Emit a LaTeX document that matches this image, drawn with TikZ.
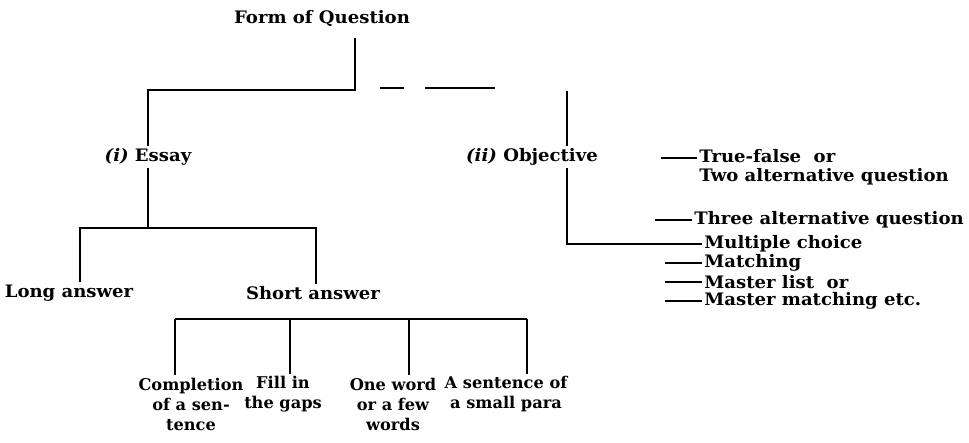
\documentclass[tikz,border=0pt]{standalone}
\usepackage{fontspec}
\setmainfont{DejaVu Serif}
\newfontfamily\widefont[FakeStretch=1.05]{DejaVu Serif}
\begin{document}
\begin{tikzpicture}[x=0.5pt,y=-0.5pt,
  every node/.style={font=\widefont\bfseries\fontsize{8.6}{9.4}\selectfont, inner sep=1pt},
  leaf/.style={align=center, font=\bfseries\fontsize{8.1}{10}\selectfont},
  item/.style={anchor=west},
  conn/.style={line width=1.3pt},
  tick/.style={line width=1pt}]
\useasboundingbox (0,0) rectangle (969,443);

% nodes
\node (form) at (322,19) {Form of Question};
\node (essay) at (148,157) {\textit{(i)} Essay};
\node (obj) at (532,157) {\textit{(ii)} Objective};
\node (long) at (69,293) {Long answer};
\node (short) at (313,293) {Short answer};
\node[leaf] (c1) at (191,404) {Completion\\of a sen-\\tence};
\node[leaf] (c2) at (283,394) {Fill in\\the gaps};
\node[leaf] (c3) at (393,404) {One word\\or a few\\words};
\node[leaf] (c4) at (506,394) {A sentence of\\a small para};

\node[item, align=left] (tf) at (697,167) {True-false~ or\\Two alternative question};
\node[item] (three) at (692,220) {Three alternative question};
\node[item] (mc) at (702,244) {Multiple choice};
\node[item] (mat) at (702,263) {Matching};
\node[item] (ml) at (702,282) {Master list~ or};
\node[item] (mm) at (702,301) {Master matching etc.};

% coordinates
\coordinate (ftop) at (355,38);
\coordinate (j1) at (355,90);
\coordinate (d1a) at (380,88);
\coordinate (d1b) at (404,88);
\coordinate (d2a) at (425,88);
\coordinate (d2b) at (495,88);
\coordinate (otop) at (567,91);
\coordinate (la) at (80,228);
\coordinate (sa) at (316,228);
\coordinate (h1) at (175,319);
\coordinate (h2) at (290,319);
\coordinate (h3) at (409,319);
\coordinate (h4) at (527,319);
\coordinate (tfl) at (697,158);

% main tree
\draw[conn] (ftop) -- (j1) -| (essay.north);
\draw[conn] (d1a) -- (d1b);
\draw[conn] (d2a) -- (d2b);
\draw[conn] (otop) -- (obj.north -| otop);
\draw[conn] (obj.south -| otop) |- (mc.west);

% essay subtree
\draw[conn] (essay.south) -- (essay.south |- la);
\draw[conn] (la |- long.north) -- (la) -- (sa) -- (sa |- short.north);

% short answer subtree
\draw[conn] (h1) -- (h4);
\draw[conn] (h1) -- (h1 |- c1.north);
\draw[conn] (h2) -- (h2 |- c2.north);
\draw[conn] (h3) -- (h3 |- c3.north);
\draw[conn] (h4) -- (h4 |- c4.north);

% objective items
\draw[tick] (tfl) -- ++(-36,0);
\draw[tick] (three.west) -- ++(-37,0);
\draw[tick] (mat.west) -- ++(-37,0);
\draw[tick] (ml.west) -- ++(-37,0);
\draw[tick] (mm.west) -- ++(-37,0);
\end{tikzpicture}
\end{document}
